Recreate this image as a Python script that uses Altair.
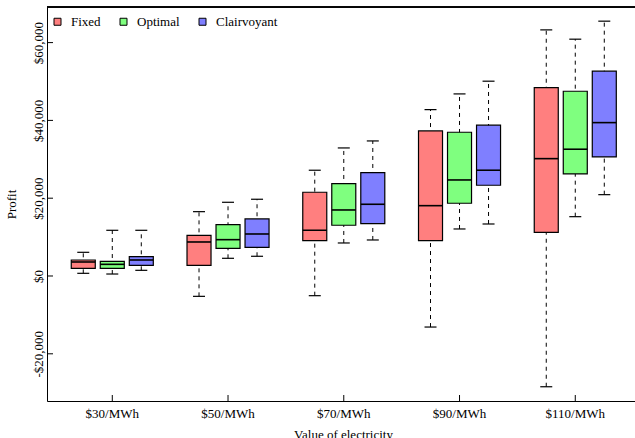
import altair as alt
import pandas as pd

prices = ["$30/MWh", "$50/MWh", "$70/MWh", "$90/MWh", "$110/MWh"]
strategies = ["Fixed", "Optimal", "Clairvoyant"]
colors = ["#FF7F7F", "#7FFF7F", "#7F7FFF"]

fixed_lower = [690, -5230, -5060, -13120, -28470]
fixed_q1 = [1970, 2740, 9080, 9080, 11240]
fixed_med = [3600, 8745, 11750, 18080, 30170]
fixed_q3 = [4115, 10460, 21530, 37290, 48430]
fixed_upper = [6090, 16540, 27190, 42770, 63270]

optimal_lower = [510, 4550, 8490, 12090, 15250]
optimal_q1 = [1970, 7120, 13040, 18700, 26230]
optimal_med = [3000, 9340, 16975, 24690, 32590]
optimal_q3 = [3770, 13200, 23740, 36950, 47500]
optimal_upper = [11750, 18950, 32920, 46810, 60880]

clair_lower = [1460, 5070, 9260, 13370, 20910]
clair_q1 = [2740, 7380, 13450, 23330, 30600]
clair_med = [4115, 10800, 18440, 27190, 39430]
clair_q3 = [4970, 14660, 26570, 38760, 52650]
clair_upper = [11750, 19730, 34720, 50080, 65510]

y_ticks = [-20000, 0, 20000, 40000, 60000]

series = {
    "Fixed": (fixed_lower, fixed_q1, fixed_med, fixed_q3, fixed_upper),
    "Optimal": (optimal_lower, optimal_q1, optimal_med, optimal_q3, optimal_upper),
    "Clairvoyant": (clair_lower, clair_q1, clair_med, clair_q3, clair_upper),
}
rows = []
for s in strategies:
    lo, q1, md, q3, up = series[s]
    for i, p in enumerate(prices):
        rows.append(dict(price=p, strategy=s, lower=lo[i], q1=q1[i],
                         median=md[i], q3=q3[i], upper=up[i]))
df = pd.DataFrame(rows)

W, H = 588, 394
FONT = "Liberation Serif"

x_enc = alt.X("price:N", sort=prices,
              scale=alt.Scale(domain=prices, paddingInner=0, paddingOuter=0.04, align=0.8),
              axis=alt.Axis(title="Value of electricity", labelAngle=0, ticks=False,
                            labelPadding=6, labelFont=FONT, labelFontSize=13,
                            labelColor="black", titleFont=FONT, titleFontSize=13,
                            titleFontWeight="normal", titleColor="black",
                            titleX=296, titleY=27, titleBaseline="top",
                            domainColor="black", domainWidth=1))
xo_enc = alt.XOffset("strategy:N", sort=strategies,
                     scale=alt.Scale(domain=strategies, paddingInner=0.1724, paddingOuter=0.581))
y_scale = alt.Scale(domain=[-32134, 69152], nice=False, zero=False)
y_axis = alt.Axis(title="Profit", values=y_ticks, ticks=False, grid=False,
                  labelAngle=270, labelAlign="center", labelBaseline="alphabetic",
                  labelPadding=5, labelFont=FONT, labelFontSize=13, labelColor="black",
                  labelExpr="datum.value < 0 ? '-$' + format(-datum.value, ',') : '$' + format(datum.value, ',')",
                  titleFont=FONT, titleFontSize=13, titleFontWeight="normal",
                  titleColor="black", titleX=-29, titleBaseline="bottom",
                  domainColor="black", domainWidth=1)

base = alt.Chart(df)

whisk = base.mark_rule(color="black", strokeWidth=1, strokeDash=[4, 4]).encode(
    x=x_enc, xOffset=xo_enc,
    y=alt.Y("lower:Q", scale=y_scale, axis=y_axis), y2="upper:Q")

caps_lo = base.mark_tick(color="black", size=12, thickness=1.2, opacity=1).encode(
    x=x_enc, xOffset=xo_enc, y=alt.Y("lower:Q", scale=y_scale))
caps_hi = base.mark_tick(color="black", size=12, thickness=1.2, opacity=1).encode(
    x=x_enc, xOffset=xo_enc, y=alt.Y("upper:Q", scale=y_scale))

boxes = base.mark_bar(stroke="black", strokeWidth=1.2, opacity=1).encode(
    x=x_enc, xOffset=xo_enc,
    y=alt.Y("q1:Q", scale=y_scale), y2="q3:Q",
    fill=alt.Fill("strategy:N", sort=strategies,
                  scale=alt.Scale(domain=strategies, range=colors),
                  legend=alt.Legend(title=None, orient="none", direction="horizontal",
                                    legendX=4, legendY=8, symbolType="square",
                                    symbolSize=49, symbolStrokeColor="black",
                                    symbolStrokeWidth=1, symbolOpacity=1,
                                    labelFont=FONT, labelFontSize=13, labelColor="black",
                                    labelOffset=7, columnPadding=16, padding=0)))

meds = base.mark_tick(color="black", size=24, thickness=1.6, opacity=1).encode(
    x=x_enc, xOffset=xo_enc, y=alt.Y("median:Q", scale=y_scale))

ytick_df = pd.DataFrame({"v": y_ticks})
yticks = alt.Chart(ytick_df).mark_rule(color="black", strokeWidth=1).encode(
    y=alt.Y("v:Q", scale=y_scale), x=alt.value(0), x2=alt.value(6))

xtick_df = pd.DataFrame({"price": prices})
xticks = alt.Chart(xtick_df).mark_rule(color="black", strokeWidth=1).encode(
    x=alt.X("price:N", sort=prices), y=alt.value(H - 6), y2=alt.value(H))

top = alt.Chart(ytick_df).mark_rule(color="black", strokeWidth=1).encode(
    x=alt.value(0), x2=alt.value(W), y=alt.value(0))

chart = alt.layer(whisk, caps_lo, caps_hi, boxes, meds, yticks, xticks, top).properties(
    width=W, height=H,
    autosize=alt.AutoSizeParams(type="none"),
    padding={"left": 47, "top": 7, "right": 0, "bottom": 37},
).configure_view(stroke=None).configure(background="white")

chart.save("out.html", embed_options={"renderer": "svg", "actions": False})
